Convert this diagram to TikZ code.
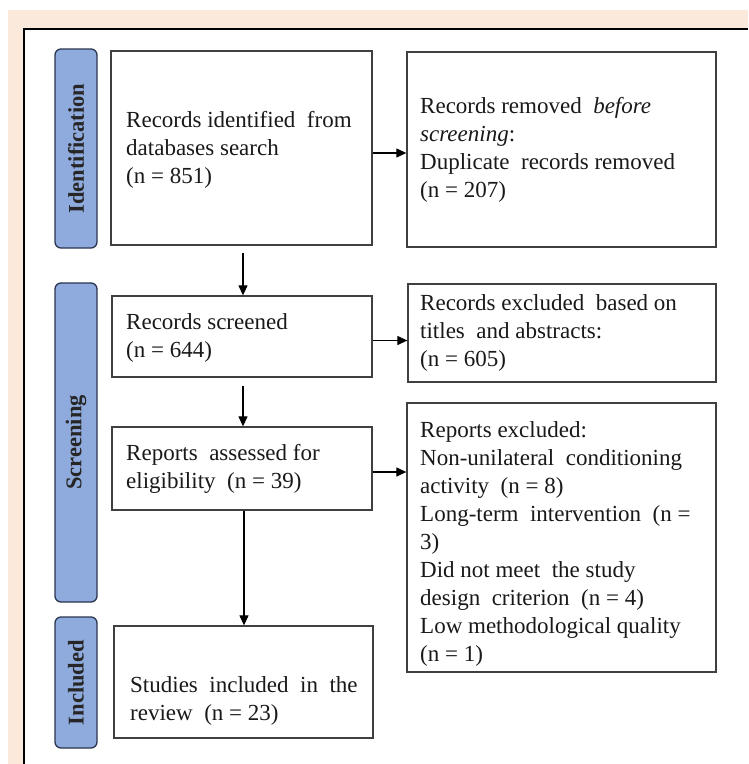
\documentclass[tikz,border=0pt]{standalone}
\usepackage{fontspec}
\setmainfont{Liberation Serif}
\usetikzlibrary{arrows.meta,calc}
\definecolor{peach}{HTML}{FBE9DC}
\definecolor{stagefill}{HTML}{8FAADC}
\definecolor{stageline}{HTML}{2B3550}
\definecolor{boxline}{HTML}{404040}
\begin{document}
\begin{tikzpicture}[x=1pt,y=-1pt,
  box/.style={draw=boxline,line width=1.3pt,fill=white,inner sep=0pt},
  stage/.style={draw=stageline,line width=1.3pt,fill=stagefill,rounded corners=6pt,
    inner sep=0pt,rotate=90,font=\fontsize{22.5}{26}\selectfont\bfseries,text=black!85},
  txt/.style={anchor=west,align=left,inner sep=0pt,font=\fontsize{23}{28}\selectfont,text=black!90},
  arr/.style={line width=1.2pt,-{Triangle[length=10pt,width=9pt]}}]
\useasboundingbox (0,0) rectangle (748,764);
\fill[white] (0,0) rectangle (748,764);
\fill[peach] (8,10) rectangle (748,764);
\fill[white] (24,29) rectangle (748,764);
\draw[line width=2.2pt] (24,764) -- (24,29) -- (748,29);
% stage labels
\node[stage,minimum width=199pt,minimum height=42pt] (sid) at (76,148.5) {Identification};
\node[stage,minimum width=319pt,minimum height=42pt] (ssc) at (76,442.5) {Screening};
\node[stage,minimum width=131pt,minimum height=42pt] (sin) at (76,682.5) {Included};
% boxes
\node[box,minimum width=261pt,minimum height=194pt] (b1) at (241.5,148) {};
\node[box,minimum width=309pt,minimum height=195pt] (b2) at (561.5,149.5) {};
\node[box,minimum width=260pt,minimum height=81pt] (b3) at (242,336.5) {};
\node[box,minimum width=308pt,minimum height=98pt] (b4) at (562,333) {};
\node[box,minimum width=260pt,minimum height=83pt] (b5) at (242,468.5) {};
\node[box,minimum width=309pt,minimum height=269pt] (b6) at (561.5,537.5) {};
\node[box,minimum width=259pt,minimum height=112pt] (b7) at (243.5,682) {};
% texts
\node[txt] (t1) at (126,150) {Records identified\ \ from\\databases search\\(n = 851)};
\node[txt] (t2) at (420,150) {Records removed\ \ \textit{before}\\\textit{screening}:\\Duplicate\ \ records removed\\(n = 207)};
\node[txt] (t3) at (126,337.5) {Records screened\\(n = 644)};
\node[txt] (t4) at (420,333) {Records excluded\ \ based on\\titles\ \ and abstracts:\\(n = 605)};
\node[txt] (t5) at (126,469) {Reports\ \ assessed for\\eligibility\ \ (n = 39)};
\node[txt] (t6) at (420,543.5) {Reports excluded:\\Non-unilateral\ \ conditioning\\activity\ \ (n = 8)\\Long-term\ \ intervention\ \ (n =\\3)\\Did not meet\ \ the study\\design\ \ criterion\ \ (n = 4)\\Low methodological quality\\(n = 1)};
\node[txt] (t7) at (130,701) {Studies\ \ included\ \ in\ \ the\\review\ \ (n = 23)};
% connectors
\draw[arr] ([yshift=-5pt]b1.east) -- ([yshift=-5pt]b1.east -| b2.west);
\draw[arr] ([yshift=-4pt]b3.east) -- ([yshift=-4pt]b3.east -| b4.west);
\draw[arr] ([yshift=-3.5pt]b5.east) -- ([yshift=-3.5pt]b5.east -| b6.west);
\draw[arr,shorten <=7pt] ([xshift=1.5pt]b1.south) -- ([xshift=1.5pt]b1.south |- b3.north);
\draw[arr,shorten <=8pt] ([xshift=1pt]b3.south) -- ([xshift=1pt]b3.south |- b5.north);
\draw[arr] ([xshift=2pt]b5.south) -- ([xshift=2pt]b5.south |- b7.north);
\end{tikzpicture}
\end{document}
